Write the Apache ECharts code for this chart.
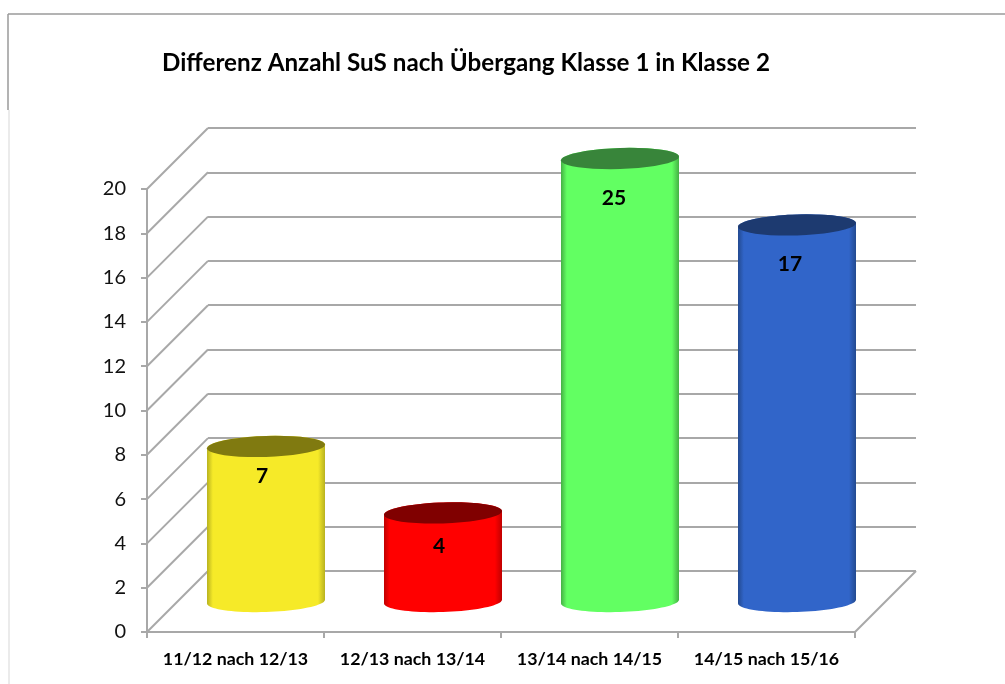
<!DOCTYPE html>
<html lang="de">

<head>
    <meta charset="UTF-8">
    <title>Differenz Anzahl SuS</title>
    <script src="https://cdn.jsdelivr.net/npm/echarts@6/dist/echarts.min.js"></script>
    <style>
        html, body { margin: 0; padding: 0; background: #fff; }
    </style>
</head>

<body>

    <div id="main" style="width: 1005px;height:684px;"></div>

    <script type="text/javascript">
        const titel = 'Differenz Anzahl SuS nach Übergang Klasse 1 in Klasse 2';
        const kategorien = ['11/12 nach 12/13', '12/13 nach 13/14', '13/14 nach 14/15', '14/15 nach 15/16'];
        const werte = [7, 4, 25, 17];
        const yTicks = [0, 2, 4, 6, 8, 10, 12, 14, 16, 18, 20];
        const yMax = 20;

        // Farben je Zylinder: Mantel, Rand (Schatten), Deckel
        const mantel = ['#f6ea28', '#ff0000', '#62ff62', '#3165c9'];
        const rand = ['#b8b220', '#c00000', '#45b045', '#234a90'];
        const deckel = ['#807a10', '#800000', '#38853a', '#1d3a70'];

        // Lage der Wertebeschriftung relativ zum Deckel
        const labelDx = [-4, -4, -6, -7];
        const labelDy = [30, 33, 40, 39];

        const linie = '#a8a8a8';
        const tiefe = 61; // Versatz von der Vorderkante zur Rückwand
        const kipp = Math.tan(1.8 * Math.PI / 180);

        // Ellipsenpunkte von Winkel a bis b, leicht gekippt wie im Original
        function bogen(cx, cy, rx, ry, a, b) {
            const pts = [];
            for (let i = 0; i <= 40; i++) {
                const t = a + (b - a) * i / 40;
                const dx = rx * Math.cos(t);
                pts.push([cx + dx, cy + ry * Math.sin(t) - dx * kipp]);
            }
            return pts;
        }

        function zylinder(params, api) {
            const i = params.dataIndex;
            const wert = api.value(1);
            const boden = api.coord([i, 0]);
            const oben = api.coord([i, Math.min(wert, yMax)]);
            const rx = api.size([1, 0])[0] / 3;
            const ry = 10.5;
            const cx = boden[0] + tiefe / 2;
            const yBoden = boden[1] - tiefe / 2;
            const yOben = oben[1] - tiefe / 2;

            const koerper = bogen(cx, yBoden, rx, ry, 0, Math.PI)
                .concat(bogen(cx, yOben, rx, ry, Math.PI, 2 * Math.PI));

            return {
                type: 'group',
                children: [
                    {
                        type: 'polygon',
                        shape: { points: koerper },
                        style: {
                            fill: new echarts.graphic.LinearGradient(0, 0, 1, 0, [
                                { offset: 0, color: rand[i] },
                                { offset: 0.05, color: mantel[i] },
                                { offset: 0.94, color: mantel[i] },
                                { offset: 1, color: rand[i] }
                            ])
                        }
                    },
                    {
                        type: 'polygon',
                        shape: { points: bogen(cx, yOben, rx, ry, 0, 2 * Math.PI) },
                        style: { fill: deckel[i] }
                    },
                    {
                        type: 'text',
                        style: {
                            x: cx + labelDx[i],
                            y: yOben + labelDy[i],
                            text: String(wert),
                            fill: '#000',
                            font: 'bold 21px Lato',
                            align: 'center',
                            verticalAlign: 'middle'
                        }
                    }
                ]
            };
        }

        // Schräge Linien der linken Seitenwand und des Bodens
        function wand(params, api) {
            const sys = params.coordSys;
            const y = api.coord([0, api.value(1)])[1];
            const style = { stroke: linie, lineWidth: 2 };
            const kinder = [{
                type: 'line',
                shape: { x1: sys.x, y1: y, x2: sys.x + tiefe, y2: y - tiefe },
                style: style
            }];
            if (api.value(1) === 0) {
                kinder.push({
                    type: 'line',
                    shape: { x1: sys.x + sys.width, y1: y, x2: sys.x + sys.width + tiefe, y2: y - tiefe },
                    style: style
                });
            }
            return { type: 'group', children: kinder };
        }

        const chart = echarts.init(document.getElementById('main'));

        const option = {
            backgroundColor: '#fff',
            animation: false,
            textStyle: { fontFamily: 'Lato' },
            title: {
                text: titel,
                left: 162,
                top: 51,
                padding: 0,
                textStyle: { fontFamily: 'Lato', fontSize: 24.2, fontWeight: 'bold', color: '#000' }
            },
            grid: [
                { left: 147, right: 150, top: 189, bottom: 52 },
                { left: 208, right: 89, top: 128, bottom: 113 }
            ],
            xAxis: [
                {
                    type: 'category',
                    gridIndex: 0,
                    data: kategorien,
                    axisLine: { lineStyle: { color: linie, width: 2 } },
                    axisTick: { show: true, alignWithLabel: false, length: 6, lineStyle: { color: linie, width: 2 } },
                    axisLabel: { interval: 0, margin: 18, fontSize: 17.8, fontWeight: 'bold', color: '#000' }
                },
                { type: 'category', gridIndex: 1, data: kategorien, show: false }
            ],
            yAxis: [
                {
                    type: 'value',
                    gridIndex: 0,
                    min: 0,
                    max: yMax,
                    interval: 2,
                    splitLine: { show: false },
                    axisLine: { show: true, lineStyle: { color: linie, width: 2 } },
                    axisTick: { show: true, length: 6, lineStyle: { color: linie, width: 2 } },
                    axisLabel: { margin: 21, fontSize: 20, color: '#111', padding: [6, 0, 0, 0] }
                },
                {
                    type: 'value',
                    gridIndex: 1,
                    min: 0,
                    max: yMax,
                    interval: 2,
                    axisLine: { show: false },
                    axisTick: { show: false },
                    axisLabel: { show: false },
                    splitLine: { show: true, lineStyle: { color: linie, width: 2 } }
                }
            ],
            series: [
                {
                    type: 'custom',
                    name: 'Wand',
                    xAxisIndex: 0,
                    yAxisIndex: 0,
                    z: 1,
                    silent: true,
                    renderItem: wand,
                    data: yTicks.map((t) => [0, t])
                },
                {
                    type: 'custom',
                    name: 'Differenz',
                    xAxisIndex: 0,
                    yAxisIndex: 0,
                    z: 3,
                    renderItem: zylinder,
                    data: werte.map((w, i) => [i, w])
                }
            ],
            graphic: [
                {
                    type: 'line',
                    silent: true,
                    shape: { x1: 8, y1: 14, x2: 1005, y2: 14 },
                    style: { stroke: '#9a9a9a', lineWidth: 1.5 }
                },
                {
                    type: 'line',
                    silent: true,
                    shape: { x1: 8, y1: 14, x2: 8, y2: 110 },
                    style: { stroke: '#9a9a9a', lineWidth: 1.5 }
                },
                {
                    type: 'line',
                    silent: true,
                    shape: { x1: 9, y1: 110, x2: 9, y2: 684 },
                    style: { stroke: '#e4e4e4', lineWidth: 1.5 }
                }
            ]
        };

        chart.setOption(option);
    </script>
</body>

</html>
